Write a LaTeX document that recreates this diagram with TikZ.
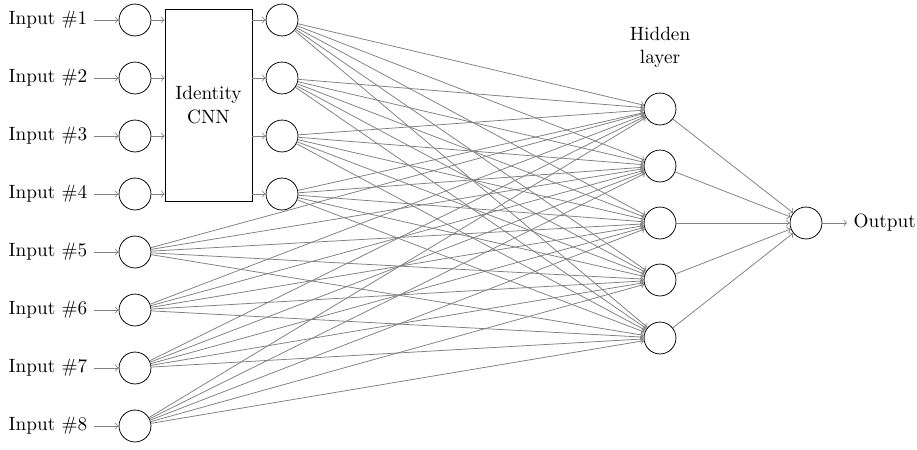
\documentclass[tikz,border=0pt]{standalone}
\usepackage{amsmath}
\usepackage{amssymb}
\usepackage{tikz}

\begin{document}
\begin{tikzpicture}
            [x=0.52pt,y=-0.52pt,>=to,
            neuron/.style={circle,draw,minimum size=16.6pt,inner sep=0pt},
            lbl/.style={inner sep=3.3pt},
            cnnbox/.style={draw,minimum width=45.2pt,minimum height=99.8pt,align=center},
            edge/.style={->,gray}]
            \useasboundingbox (0,0) rectangle (917,449);
            % input neurons
            \node[neuron] (in1) at (135,20) {};
            \node[neuron] (in2) at (135,78) {};
            \node[neuron] (in3) at (135,136) {};
            \node[neuron] (in4) at (135,194) {};
            \node[neuron] (in5) at (135,252) {};
            \node[neuron] (in6) at (135,310) {};
            \node[neuron] (in7) at (135,368) {};
            \node[neuron] (in8) at (135,426) {};
            % input labels
            \node[lbl,anchor=east] (t1) at (94,20) {Input \#1};
            \node[lbl,anchor=east] (t2) at (94,78) {Input \#2};
            \node[lbl,anchor=east] (t3) at (94,136) {Input \#3};
            \node[lbl,anchor=east] (t4) at (94,194) {Input \#4};
            \node[lbl,anchor=east] (t5) at (94,252) {Input \#5};
            \node[lbl,anchor=east] (t6) at (94,310) {Input \#6};
            \node[lbl,anchor=east] (t7) at (94,368) {Input \#7};
            \node[lbl,anchor=east] (t8) at (94,426) {Input \#8};
            % the cnn block and its outputs
            \node[cnnbox] (cnn) at (208.5,105) {Identity\\CNN};
            \node[neuron] (c1) at (282,20) {};
            \node[neuron] (c2) at (282,78) {};
            \node[neuron] (c3) at (282,136) {};
            \node[neuron] (c4) at (282,194) {};
            % hidden layer
            \node[lbl,align=center] (hl) at (660,47) {Hidden\\layer};
            \node[neuron] (h1) at (660,109) {};
            \node[neuron] (h2) at (660,166) {};
            \node[neuron] (h3) at (660,223) {};
            \node[neuron] (h4) at (660,280) {};
            \node[neuron] (h5) at (660,338) {};
            % output
            \node[neuron] (out) at (806,223) {};
            \node[lbl,anchor=west] (ot) at (847,223) {Output};
            % connections
            \foreach \i in {1,...,8}
                \draw[edge] (t\i) -- (in\i);
            \foreach \i in {1,...,4}
            {
                \draw[edge] (in\i) -- (cnn.west |- in\i);
                \draw[edge] (cnn.east |- c\i) -- (c\i);
            }
            \foreach \i in {1,...,4}
                \foreach \j in {1,...,5}
                    \draw[edge] (c\i) -- (h\j);
            \foreach \i in {5,...,8}
                \foreach \j in {1,...,5}
                    \draw[edge] (in\i) -- (h\j);
            \foreach \j in {1,...,5}
                \draw[edge] (h\j) -- (out);
            \draw[edge] (out) -- (ot);
        \end{tikzpicture}
\end{document}
